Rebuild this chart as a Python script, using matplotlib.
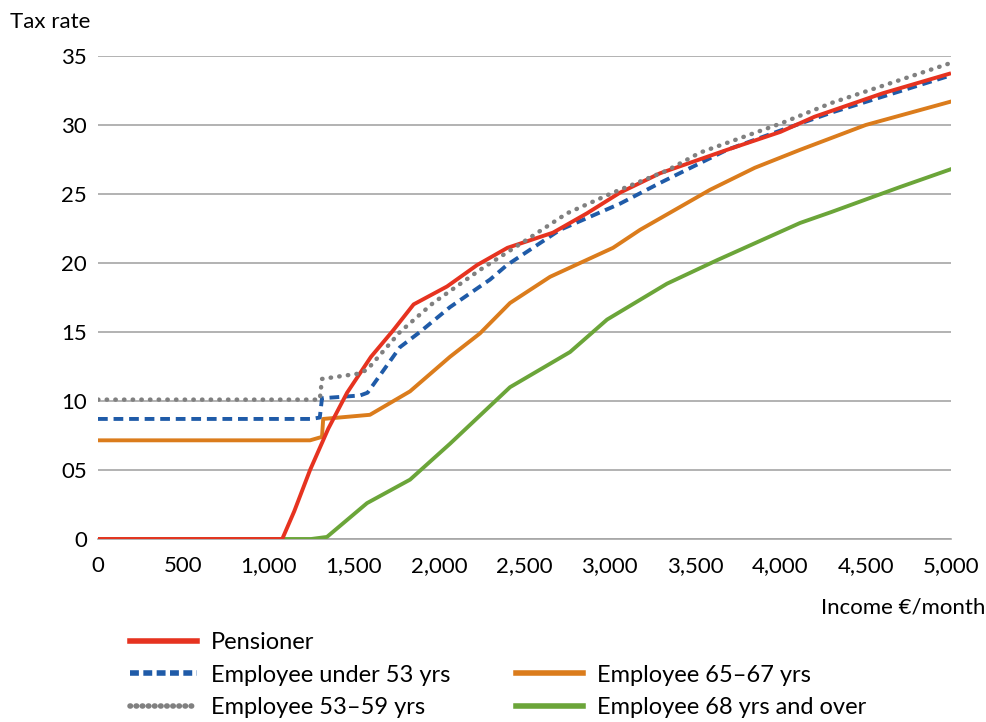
import matplotlib
matplotlib.use('Agg')
import matplotlib.pyplot as plt
from matplotlib.lines import Line2D

# values (income in €/month, tax rate in %)
pens_x = [0, 1080, 1150, 1243, 1350, 1460, 1600, 1729, 1850, 2046, 2222, 2400, 2667, 2866, 3060, 3294, 3687, 4000, 4200, 4600, 5000]
pens_y = [0, 0, 2.0, 5.0, 8.0, 10.6, 13.2, 15.1, 17.0, 18.3, 19.85, 21.1, 22.2, 23.6, 25.1, 26.5, 28.2, 29.5, 30.6, 32.3, 33.75]

u53_x = [0, 1250, 1300, 1313, 1536, 1580, 1770, 1887, 2063, 2298, 2397, 2708, 3060, 3294, 3687, 4000, 4300, 5000]
u53_y = [8.7, 8.7, 8.8, 10.2, 10.4, 10.6, 13.9, 15.0, 16.8, 18.8, 19.85, 22.4, 24.3, 25.8, 28.2, 29.6, 30.9, 33.6]

e5359_x = [0, 1300, 1313, 1536, 1580, 1770, 1964, 2239, 2515, 2749, 3019, 3335, 3529, 4000, 4300, 5000]
e5359_y = [10.1, 10.1, 11.6, 12.0, 12.3, 15.0, 17.1, 19.5, 21.7, 23.6, 25.1, 26.7, 28.0, 30.1, 31.6, 34.5]

e6567_x = [0, 1243, 1313, 1320, 1594, 1829, 2063, 2239, 2415, 2650, 3019, 3177, 3587, 3850, 4115, 4500, 5000]
e6567_y = [7.15, 7.15, 7.4, 8.7, 9.0, 10.7, 13.2, 14.9, 17.1, 19.0, 21.1, 22.4, 25.3, 26.9, 28.2, 30.0, 31.7]

e68_x = [0, 1080, 1250, 1342, 1577, 1829, 2063, 2415, 2767, 2984, 3335, 3628, 4115, 4300, 4700, 5000]
e68_y = [0, 0, 0, 0.15, 2.6, 4.3, 6.9, 11.0, 13.55, 15.9, 18.5, 20.2, 22.9, 23.7, 25.5, 26.8]

xticks = list(range(0, 5001, 500))
xlabels = ['{:,}'.format(v) for v in xticks]
yticks = [0, 5, 10, 15, 20, 25, 30, 35]
ylabels = ['0', '05', '10', '15', '20', '25', '30', '35']

red = '#E63320'
blue = '#1F5BA8'
grey = '#808080'
orange = '#DB7C1C'
green = '#6BA539'

plt.rcParams['font.family'] = ['Lato', 'DejaVu Sans']

fig = plt.figure(figsize=(9.87, 7.22), dpi=100)
ax = fig.add_axes([98/987, 1-539/722, (951-98)/987, (539-56)/722])

lw = 2.8
ax.plot(e68_x, e68_y, color=green, lw=lw, zorder=3)
ax.plot(e6567_x, e6567_y, color=orange, lw=lw, zorder=3)
ax.plot(u53_x, u53_y, color=blue, lw=lw, ls=(0, (2.5, 1.5)), zorder=4)
ax.plot(pens_x, pens_y, color=red, lw=lw, zorder=5, solid_capstyle='butt')
ax.plot(e5359_x, e5359_y, color=grey, lw=3.2, ls=(0, (0.1, 1.85)), dash_capstyle='round', zorder=6)

ax.set_xlim(0, 5000)
ax.set_ylim(0, 35)
ax.set_xticks(xticks)
ax.set_xticklabels(xlabels)
ax.set_yticks(yticks)
ax.set_yticklabels(ylabels)
ax.tick_params(length=0, labelsize=16, colors='black')
ax.tick_params(axis='x', pad=12)
ax.tick_params(axis='y', pad=8)
ax.grid(axis='y', color='#A6A6A6', lw=1.2)
ax.set_axisbelow(True)
for s in ['top', 'right', 'left']:
    ax.spines[s].set_visible(False)
ax.spines['bottom'].set_color('#A6A6A6')
ax.spines['bottom'].set_linewidth(1.2)

fig.text(10/987, 1-22/722, 'Tax rate', fontsize=16, va='center', ha='left')
fig.text(985/987, 1-608/722, 'Income €/month', fontsize=16, va='center', ha='right')

handles = [
    Line2D([], [], color=red, lw=4),
    Line2D([], [], color=blue, lw=4, ls=(0, (1.6, 0.8))),
    Line2D([], [], color=grey, lw=4, ls=(0, (0.1, 1.0)), dash_capstyle='round'),
    Line2D([], [], color='none'),
    Line2D([], [], color=orange, lw=4),
    Line2D([], [], color=green, lw=4),
]
labels = ['Pensioner', 'Employee under 53 yrs', 'Employee 53–59 yrs', '',
          'Employee 65–67 yrs', 'Employee 68 yrs and over']
fig.legend(handles, labels, ncol=2, loc='upper left', bbox_to_anchor=(118/987, 1-620/722),
           frameon=False, fontsize=17, handlelength=2.85, handletextpad=0.6,
           columnspacing=2.75, labelspacing=0.5, borderpad=0)

fig.savefig('out.png', dpi=100)
